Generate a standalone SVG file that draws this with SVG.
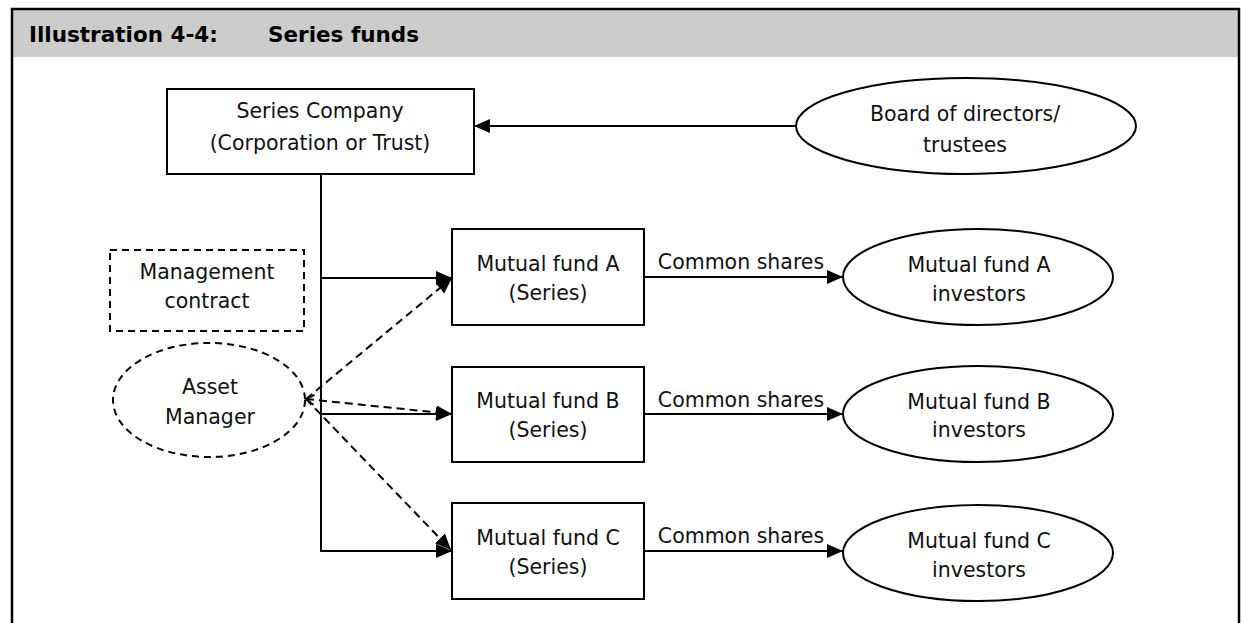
<svg xmlns="http://www.w3.org/2000/svg" width="1244" height="623" viewBox="0 0 1244 623">
<style>
.t{font-family:"DejaVu Sans","Liberation Sans",sans-serif;font-size:20.5px;fill:#111;text-anchor:middle}
.title{font-family:"DejaVu Sans","Liberation Sans",sans-serif;font-size:21.5px;font-weight:bold;fill:#000}
.box{fill:#fff;stroke:#000;stroke-width:2}
.dbox{fill:#fff;stroke:#000;stroke-width:2;stroke-dasharray:7 5}
.ln{fill:none;stroke:#000;stroke-width:2}
.dl{fill:none;stroke:#000;stroke-width:2;stroke-dasharray:8 5}
</style>
<defs>
<marker id="ah" markerUnits="userSpaceOnUse" markerWidth="16" markerHeight="16" refX="16" refY="8" orient="auto" viewBox="0 0 16 16">
<path d="M0,1 L16,8 L0,15 z" fill="#000"/>
</marker>
<marker id="oh" markerUnits="userSpaceOnUse" markerWidth="12" markerHeight="14" refX="1" refY="7" orient="auto" viewBox="0 0 12 14">
<path d="M9,2 L1,7 L9,12" fill="none" stroke="#000" stroke-width="2"/>
</marker>
</defs>
<rect x="0" y="0" width="1244" height="623" fill="#fff"/>
<g id="frame">
<rect x="12" y="9" width="1227" height="48" fill="#cccccc"/>
<path d="M12,623 V9 H1239 V623" fill="none" stroke="#000" stroke-width="2.5"/>
<text class="title" x="29" y="42">Illustration 4-4:</text>
<text class="title" x="268" y="42">Series funds</text>
</g>
<g id="connectors">
<line class="ln" x1="796" y1="126" x2="474" y2="126" marker-end="url(#ah)"/>
<polyline class="ln" points="321,174 321,551 452,551" marker-end="url(#ah)"/>
<line class="ln" x1="321" y1="278" x2="452" y2="278" marker-end="url(#ah)"/>
<line class="ln" x1="321" y1="414" x2="452" y2="414" marker-end="url(#ah)"/>
<line class="dl" x1="306" y1="399" x2="452" y2="278" marker-end="url(#ah)"/>
<line class="dl" x1="306" y1="399" x2="452" y2="414" marker-start="url(#oh)" marker-end="url(#ah)"/>
<line class="dl" x1="306" y1="399" x2="451" y2="550" marker-end="url(#ah)"/>
<line class="ln" x1="644" y1="277" x2="843" y2="277" marker-end="url(#ah)"/>
<line class="ln" x1="644" y1="414" x2="843" y2="414" marker-end="url(#ah)"/>
<line class="ln" x1="644" y1="551" x2="843" y2="551" marker-end="url(#ah)"/>
</g>
<g id="labels">
<text class="t" x="741" y="269">Common shares</text>
<text class="t" x="741" y="407">Common shares</text>
<text class="t" x="741" y="543">Common shares</text>
</g>
<g id="series-company">
<rect class="box" x="167" y="89" width="307" height="85"/>
<text class="t" x="320" y="118">Series Company</text>
<text class="t" x="320" y="150">(Corporation or Trust)</text>
</g>
<g id="board">
<ellipse class="box" cx="966" cy="126" rx="170" ry="48"/>
<text class="t" x="965" y="121">Board of directors/</text>
<text class="t" x="965" y="152">trustees</text>
</g>
<g id="management-contract">
<rect class="dbox" x="110" y="250" width="194" height="81"/>
<text class="t" x="207" y="279">Management</text>
<text class="t" x="207" y="308">contract</text>
</g>
<g id="asset-manager">
<ellipse class="dbox" cx="209" cy="400" rx="96" ry="57" fill="none" style="fill:none"/>
<text class="t" x="210" y="394">Asset</text>
<text class="t" x="210" y="424">Manager</text>
</g>
<g id="fund-a">
<rect class="box" x="452" y="229" width="192" height="96"/>
<text class="t" x="548" y="271">Mutual fund A</text>
<text class="t" x="548" y="300">(Series)</text>
</g>
<g id="fund-b">
<rect class="box" x="452" y="367" width="192" height="95"/>
<text class="t" x="548" y="408">Mutual fund B</text>
<text class="t" x="548" y="437">(Series)</text>
</g>
<g id="fund-c">
<rect class="box" x="452" y="503" width="192" height="96"/>
<text class="t" x="548" y="545">Mutual fund C</text>
<text class="t" x="548" y="574">(Series)</text>
</g>
<g id="investors-a">
<ellipse class="box" cx="978" cy="277" rx="135" ry="48"/>
<text class="t" x="979" y="272">Mutual fund A</text>
<text class="t" x="979" y="301">investors</text>
</g>
<g id="investors-b">
<ellipse class="box" cx="978" cy="414" rx="135" ry="48"/>
<text class="t" x="979" y="409">Mutual fund B</text>
<text class="t" x="979" y="437">investors</text>
</g>
<g id="investors-c">
<ellipse class="box" cx="978" cy="553" rx="135" ry="48"/>
<text class="t" x="979" y="548">Mutual fund C</text>
<text class="t" x="979" y="577">investors</text>
</g>
</svg>
